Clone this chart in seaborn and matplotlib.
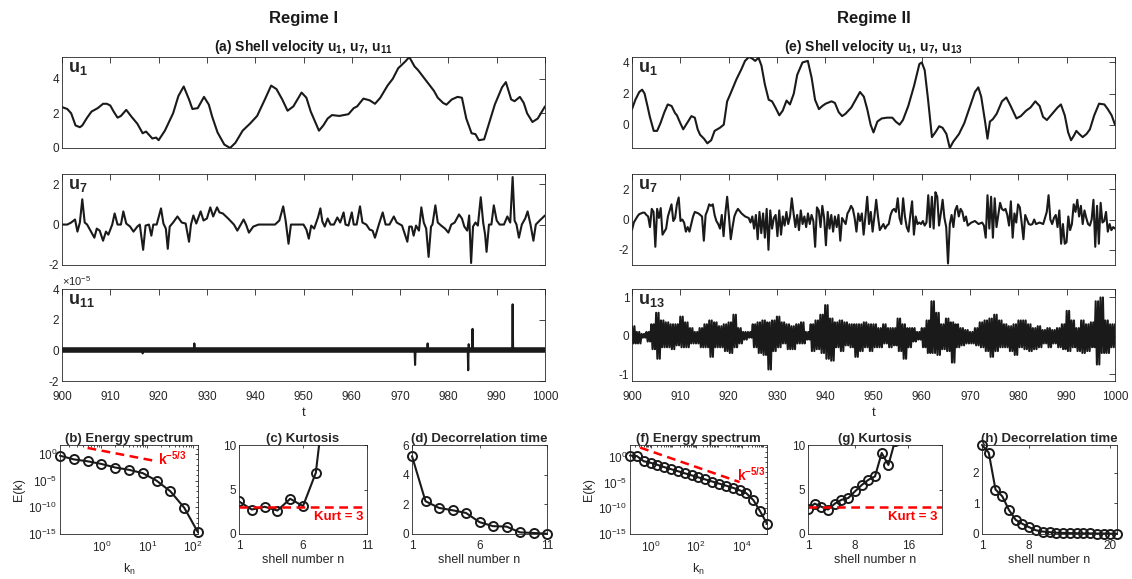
import numpy as np
import matplotlib
matplotlib.use("Agg")
import matplotlib.pyplot as plt
import seaborn as sns
from matplotlib.ticker import FixedLocator, NullFormatter, LogLocator

# -------------------- data --------------------
# Regime I, shell u1 (t, value)
u1_I = [(900.0,2.36),(901.1,2.25),(901.9,2.0),(902.8,1.3),(903.7,1.2),(904.2,1.3),(905.2,1.75),(906.1,2.1),
        (907.4,2.3),(908.5,2.55),(909.3,2.55),(910.0,2.45),(910.7,2.1),(911.5,1.75),(912.2,1.85),(913.3,2.2),
        (914.4,1.8),(915.6,1.4),(916.7,0.85),(917.4,0.95),(918.7,0.55),(919.5,0.6),(920.0,0.45),(921.3,1.0),
        (923.0,2.0),(924.1,3.0),(925.2,3.55),(926.3,2.8),(927.0,2.25),(928.1,2.3),(929.4,2.95),(930.4,2.5),
        (931.1,1.8),(932.2,0.9),(933.6,0.2),(934.8,0.0),(935.9,0.3),(937.4,1.0),(938.9,1.4),(940.4,1.85),
        (942.0,2.8),(943.3,3.6),(944.4,3.4),(945.6,2.8),(946.7,2.15),(947.9,2.4),(949.6,3.2),(950.6,2.9),
        (951.5,2.1),(953.2,1.0),(954.1,1.3),(955.0,1.7),(955.9,1.9),(957.4,1.85),(959.3,1.95),(960.4,2.3),
        (961.1,2.4),(962.4,2.85),(963.7,2.75),(964.8,2.55),(965.9,2.9),(967.4,3.6),(968.5,4.0),(969.6,4.6),
        (971.1,5.0),(971.9,5.25),(973.0,4.7),(973.7,4.5),(974.8,4.1),(975.9,3.7),(977.0,3.3),(977.8,2.9),
        (978.9,2.6),(979.6,2.5),(980.7,2.8),(981.9,2.95),(982.8,2.9),(983.7,1.7),(984.8,0.85),(985.6,0.8),
        (986.3,0.45),(987.4,0.5),(988.5,1.5),(989.6,2.5),(991.1,3.5),(991.9,3.8),(993.0,2.8),(993.7,2.7),
        (994.8,2.95),(995.6,2.6),(996.3,2.0),(997.4,1.5),(998.5,1.7),(1000.0,2.4)]

# Regime I, shell u7 (t, value)
u7_I = [(900.0,0.0),(901.1,0.0),(901.9,0.1),(902.7,0.25),(903.2,-0.35),(903.7,0.1),(904.2,1.25),(904.7,0.1),
        (905.2,0.0),(905.9,-0.3),(906.7,-0.65),(907.2,-0.2),(907.8,-0.3),(908.5,-0.8),(909.1,-0.35),(909.6,-0.5),
        (910.4,0.0),(910.9,0.55),(911.5,0.0),(912.2,0.0),(912.7,0.65),(913.3,0.05),(914.1,-0.1),(914.8,-0.35),
        (915.6,-0.1),(916.1,0.0),(916.8,-1.25),(917.3,-0.05),(918.0,0.0),(918.5,-0.55),(918.9,0.0),(919.6,0.0),
        (920.5,0.8),(921.0,0.05),(921.5,-0.2),(921.9,-1.2),(922.3,-0.1),(923.0,0.1),(923.9,0.4),(924.8,0.1),
        (925.6,0.05),(926.3,-0.85),(926.7,0.0),(927.2,0.45),(927.8,0.05),(928.7,0.65),(929.3,0.2),(930.0,0.3),
        (930.7,0.85),(931.3,0.4),(932.1,0.85),(932.6,0.6),(933.3,0.55),(934.4,0.3),(935.6,0.0),(936.3,-0.3),
        (937.0,0.0),(937.6,0.25),(938.1,0.0),(938.7,-0.4),(939.6,-0.1),(940.7,0.0),(942.6,0.0),(944.1,0.0),
        (945.0,0.2),(945.8,0.9),(946.3,0.2),(946.9,-0.95),(947.4,0.0),(948.5,0.0),(950.0,0.0),(950.6,-0.25),
        (951.1,-0.7),(951.6,-0.05),(952.2,-0.2),(953.0,0.35),(953.5,0.8),(953.9,0.15),(954.4,-0.1),(955.0,0.3),
        (955.6,0.0),(956.3,0.0),(957.0,0.35),(957.6,0.1),(958.3,0.6),(958.7,0.0),(959.3,-0.05),(960.0,0.6),
        (960.4,0.0),(961.0,0.0),(961.7,0.9),(962.2,0.1),(963.0,0.0),(963.7,-0.25),(964.3,-0.3),(964.8,-0.65),
        (965.6,0.0),(966.4,0.6),(967.0,0.0),(967.8,0.0),(968.7,0.4),(969.3,0.1),(970.4,-0.05),(971.5,-0.85),
        (971.9,-0.1),(972.4,-0.1),(972.8,-0.55),(973.3,-0.05),(973.9,-0.3),(974.4,0.85),(974.9,0.1),(975.4,-0.2),
        (975.9,-1.6),(976.4,-0.1),(976.7,0.0),(977.3,0.95),(977.8,0.1),(978.5,-0.05),(979.3,-0.2),(980.0,-0.4),
        (980.6,0.0),(981.3,0.1),(982.2,0.5),(982.8,0.3),(983.3,-0.1),(983.9,-0.3),(984.3,0.45),(984.7,-1.9),
        (985.1,-0.1),(985.6,0.1),(986.1,-0.05),(986.7,1.35),(987.2,0.1),(987.6,-0.5),(987.9,-1.35),(988.4,0.0),
        (988.9,0.0),(989.4,0.95),(990.0,0.2),(990.6,0.0),(991.5,0.0),(992.2,0.4),(992.8,0.1),(993.3,2.35),
        (993.7,0.2),(994.1,0.0),(994.6,-0.65),(995.2,0.0),(995.9,0.3),(996.4,0.65),(997.0,0.0),(997.6,-0.8),
        (998.1,0.0),(998.9,0.2),(1000.0,0.45)]

# Regime I, shell u11 in units of 1e-5 (t, value): spikes on a thin noisy band around 0
u11_I = [(900.0,0.0),(916.6,0.0),(916.7,-0.2),(916.8,0.0),(927.3,0.0),(927.4,0.45),(927.5,0.0),
         (973.0,0.0),(973.1,-0.95),(973.2,0.0),(975.6,0.0),(975.7,0.45),(975.8,0.0),(984.0,0.0),
         (984.1,-1.3),(984.2,0.4),(984.3,0.0),(984.9,0.0),(985.0,1.4),(985.1,0.0),(993.2,0.0),
         (993.3,3.0),(993.4,0.0),(1000.0,0.0)]

# Regime II, shell u1 (t, value)
u1_II = [(900.0,1.0),(900.7,1.6),(901.5,2.1),(902.1,2.25),(902.6,2.0),(903.2,1.2),(903.7,0.5),(904.5,-0.4),
         (905.2,-0.4),(905.9,0.1),(906.7,0.8),(907.4,1.3),(908.2,1.2),(908.9,0.75),(909.3,0.6),(910.0,0.1),
         (910.6,-0.3),(911.4,0.1),(912.3,0.55),(913.0,0.45),(913.6,-0.3),(914.1,-0.65),(914.9,-0.9),(915.6,-1.2),
         (916.4,-1.0),(917.1,-0.4),(918.2,-0.2),(919.0,0.0),(919.7,1.5),(920.4,2.0),(921.6,2.9),(922.7,3.6),
         (923.4,4.1),(924.2,4.35),(924.9,4.25),(925.5,4.1),(926.2,4.3),(926.8,3.8),(927.5,2.6),(928.3,1.6),
         (929.0,1.5),(929.7,1.1),(930.5,0.6),(931.2,0.9),(932.0,1.55),(932.7,1.3),(933.5,2.0),(934.2,3.2),
         (935.3,4.0),(936.4,4.1),(937.2,3.0),(937.9,1.6),(938.7,1.0),(939.4,1.2),(940.1,1.35),(941.3,1.5),
         (942.0,1.4),(942.8,0.8),(943.5,0.55),(944.2,0.7),(945.4,1.1),(946.3,1.6),(947.2,2.1),(948.0,1.8),
         (948.7,1.0),(949.4,0.0),(950.0,-0.5),(950.8,0.2),(951.7,0.4),(952.8,0.45),(953.9,0.45),(954.6,0.2),
         (955.4,0.0),(956.1,0.3),(957.2,1.2),(958.4,2.5),(959.5,3.9),(960.0,4.0),(960.6,3.5),(961.3,1.6),
         (962.1,-0.8),(962.8,-0.5),(963.6,-0.1),(964.3,-0.2),(965.1,-0.6),(965.8,-1.5),(966.5,-1.1),(967.7,-0.6),
         (968.8,0.1),(969.9,1.1),(971.0,2.1),(971.7,2.4),(972.3,1.8),(973.1,0.2),(973.6,-0.9),(974.1,0.2),
         (974.7,0.35),(975.5,0.7),(976.6,1.5),(977.5,1.75),(978.4,1.2),(979.6,0.4),(980.5,0.55),(981.6,0.9),
         (982.5,1.1),(983.5,1.5),(984.4,1.2),(985.1,0.5),(985.9,0.3),(987.0,0.7),(988.1,1.1),(988.8,1.3),
         (989.6,0.6),(990.3,-0.5),(990.9,-1.0),(991.5,-0.7),(992.0,-0.4),(992.6,-0.6),(993.3,-0.8),(994.1,-0.6),
         (994.8,-0.3),(995.7,0.6),(996.7,1.35),(997.8,1.3),(998.5,1.0),(999.3,0.6),(1000.0,0.0)]

# Regime II, shell u7, evenly sampled over t = 900..1000
u7_II = [-0.7, -0.2, 0.0, 0.2, 0.35, 0.4, 0.45, 0.45, 0.3, 0.2,
         -0.5, 0.7, 0.5, -1.8, 0.7, 0.1, 0.75, -1.0, -0.8, -0.6,
         0.2, 0.6, 1.0, -0.1, 0.1, 1.0, 1.45, -0.1, 0.0, -0.2,
         -0.8, -0.5, -0.8, -0.3, 0.2, 0.5, 0.45, 0.4, 0.3, 0.2,
         -1.4, 0.3, 0.6, 1.0, 0.9, 1.0, 0.3, -0.1, -0.3, -0.6,
         0.3, -1.1, 0.4, 1.5, 0.2, -1.3, -0.5, 0.2, 0.5, 0.7,
         0.55, 0.4, 0.3, 0.2, 0.15, 0.1, -0.2, 0.2, -0.6, 0.3,
         -1.3, 0.5, -0.9, 0.4, -1.2, 0.7, -2.0, 0.6, -0.6, 0.1,
         0.3, -1.1, 0.6, -1.0, 0.2, -0.4, 0.5, -0.3, 0.2, 1.4,
         0.4, -0.5, 0.3, -0.7, 0.6, -0.3, 0.2, -0.5, 0.4, -0.3,
         0.3, -0.1, -1.8, 0.8, 0.6, -0.5, 0.9, 0.1, -1.7, 0.5,
         -0.6, 0.3, -0.8, 0.2, -0.5, 0.3, -1.4, 0.1, -0.1, -0.3,
         0.4, 0.6, 0.9, 0.7, 0.1, -0.8, 0.4, -0.1, 0.4, -1.0,
         0.2, 1.5, -0.3, 0.5, -0.8, 0.2, 1.3, 0.2, -0.7, -0.5,
         -0.3, -0.6, -0.4, -0.3, 0.3, 0.6, 0.7, 0.5, 1.4, 0.1,
         -0.3, 1.4, 0.2, -0.5, -0.8, 0.3, 1.2, -1.0, 0.2, -0.3,
         -0.2, -0.3, -0.1, -0.4, -0.2, 1.6, -0.5, 1.5, -0.6, 1.8,
         1.5, -0.4, 0.4, 1.3, 0.1, -0.5, -2.9, -0.3, 0.3, -0.5,
         0.6, 0.9, 0.2, 0.7, 0.5, -0.1, 0.2, -0.4, -0.3, -0.2,
         -0.15, -0.1, -0.2, -0.3, -0.25, -0.2, -0.4, -1.2, 1.6, -0.6,
         1.5, -1.2, 1.4, -0.5, 0.3, 1.1, 0.7, 0.6, 0.7, 0.3,
         -0.4, 1.2, -1.2, 0.4, -0.2, 1.0, 0.8, -0.2, -1.3, 0.3,
         0.0, -0.3, -0.35, -0.3, 0.0, -0.3, -0.25, -0.2, -0.25, -0.3,
         0.1, 0.5, 1.6, 0.0, -0.3, 0.1, 0.3, -0.5, 0.6, -1.6,
         -0.3, -1.6, -1.5, 0.2, -0.7, -0.3, 1.0, 0.5, 1.3, 0.2,
         0.9, -0.3, 0.6, 0.1, -0.3, -0.4, 0.0, 1.3, -1.8, 0.9,
         -1.6, 1.1, -0.2, -0.1, 0.5, -0.8, -0.3, -0.7, -0.5, -0.6]

# Regime II, shell u13: upper / lower swing of the fast oscillation at t = 900, 901, ..., 1000
u13_hi = [0.25, 0.1, 0.05, 0.1, 0.3, 0.6, 0.4, 0.35, 0.3, 0.3,
          0.5, 0.35, 0.2, 0.1, 0.2, 0.3, 0.4, 0.35, 0.25, 0.3,
          0.35, 0.55, 0.2, 0.1, 0.1, 0.3, 0.35, 0.4, 0.35, 0.4,
          0.5, 0.35, 0.3, 0.25, 0.3, 0.35, 0.1, 0.3, 0.4, 0.55,
          0.8, 0.45, 0.35, 0.4, 0.35, 0.3, 0.3, 0.3, 0.35, 0.3,
          0.3, 0.2, 0.3, 0.2, 0.2, 0.45, 0.3, 0.2, 0.2, 0.1,
          0.2, 0.4, 0.9, 0.6, 0.3, 0.45, 0.35, 0.3, 0.2, 0.15,
          0.1, 0.2, 0.35, 0.4, 0.45, 0.55, 0.4, 0.3, 0.25, 0.3,
          0.4, 0.4, 0.3, 0.2, 0.25, 0.15, 0.2, 0.15, 0.2, 0.3,
          0.65, 0.4, 0.2, 0.4, 0.3, 0.35, 0.9, 1.0, 0.4, 0.3,
          0.3]
u13_lo = [-0.2, -0.2, -0.05, -0.15, -0.35, -0.6, -0.3, -0.3, -0.35, -0.25,
          -0.3, -0.3, -0.2, -0.2, -0.3, -0.3, -0.55, -0.3, -0.3, -0.4,
          -0.45, -0.3, -0.2, -0.1, -0.05, -0.3, -0.45, -0.5, -0.88, -0.4,
          -0.3, -0.2, -0.35, -0.35, -0.2, -0.2, -0.1, -0.4, -0.35, -0.45,
          -0.6, -0.65, -0.3, -0.4, -0.25, -0.3, -0.55, -0.4, -0.3, -0.4,
          -0.3, -0.3, -0.2, -0.3, -0.25, -0.4, -0.6, -0.3, -0.15, -0.1,
          -0.3, -0.45, -0.45, -0.5, -0.35, -0.4, -0.7, -0.3, -0.25, -0.2,
          -0.2, -0.25, -0.3, -0.4, -0.55, -0.4, -0.3, -0.3, -0.4, -0.5,
          -0.3, -0.35, -0.4, -0.35, -0.3, -0.2, -0.3, -0.2, -0.3, -0.35,
          -0.4, -0.3, -0.4, -0.45, -0.4, -0.3, -0.75, -0.45, -0.45, -0.3,
          -0.2]

# Energy spectra
k_I = [0.125, 0.25, 0.5, 1, 2, 4, 8, 16, 32, 64, 128]
E_I = [0.49, 0.10, 0.044, 0.014, 3.0e-3, 1.1e-3, 2.6e-4, 1.0e-5, 1.0e-7, 8.7e-11, 2.0e-15]
k_II = [0.125, 0.25, 0.5, 1, 2, 4, 8, 16, 32, 64, 128, 256, 512, 1024, 2048, 4096,
        8192, 16384, 32768, 65536, 131072]
E_II = [1.8, 1.4, 0.14, 0.071, 0.028, 0.01, 4.0e-3, 1.6e-3, 6.3e-4, 2.5e-4, 1.0e-4,
        4.0e-5, 1.6e-5, 6.3e-6, 2.5e-6, 1.0e-6, 3.2e-7, 7.9e-8, 4.0e-9, 2.5e-11, 1.0e-13]
ref_k_I, ref_E_I = [0.5, 16], [14.0, 0.045]          # k^-5/3 guide
ref_k_II, ref_E_II = [0.35, 8200], [63.0, 1.26e-5]

# Kurtosis and decorrelation time per shell
n_I = np.arange(1, 12)
n_II = np.arange(1, 22)
kurt_I = [3.66, 2.75, 3.06, 2.64, 3.96, 3.13, 6.87, 19, 40, 80, 150]
kurt_II = [2.86, 3.41, 3.06, 2.75, 3.41, 3.84, 4.04, 4.78, 5.49, 6.08, 6.47, 9.1, 7.76,
           10.5, 14, 20, 28, 40, 55, 75, 100]
kurt_gauss = 3
tau_I = [5.25, 2.21, 1.76, 1.6, 1.42, 0.8, 0.53, 0.5, 0.11, 0.07, 0.02]
tau_II = [2.9, 2.65, 1.45, 1.23, 0.78, 0.46, 0.33, 0.22, 0.12, 0.08, 0.06, 0.04, 0.035,
          0.03, 0.025, 0.02, 0.02, 0.015, 0.015, 0.01, 0.01]

# -------------------- style --------------------
sns.set_theme(style="white")
plt.rcParams['font.family'] = ['Liberation Sans', 'DejaVu Sans']
plt.rcParams['mathtext.fontset'] = 'custom'
plt.rcParams['mathtext.rm'] = 'Liberation Sans'
plt.rcParams['mathtext.it'] = 'Liberation Sans:italic'
plt.rcParams['mathtext.bf'] = 'Liberation Sans:bold'
plt.rcParams['axes.unicode_minus'] = False

INK = '#262626'
W, H = 1132, 579
fig = plt.figure(figsize=(W / 100, H / 100), dpi=100)


def box(x0, y0, x1, y1):
    return fig.add_axes([x0 / W, 1 - y1 / H, (x1 - x0) / W, (y1 - y0) / H])


def style(ax, tl=3.5, xpad=3):
    ax.set_facecolor('white')
    ax.tick_params(which='both', direction='in', top=True, right=True, width=0.6,
                   colors=INK, labelsize=8.5, pad=2)
    ax.tick_params(axis='x', which='both', pad=xpad)
    ax.tick_params(which='major', length=tl)
    ax.tick_params(which='minor', length=tl * 0.6)
    for s in ax.spines.values():
        s.set_color(INK)
        s.set_linewidth(0.6)


def series(pairs):
    t, v = zip(*pairs)
    return np.array(t), np.array(v)


def trace(ax, t, v, lw=1.5):
    sns.lineplot(x=t, y=v, ax=ax, color='k', lw=lw, sort=False, estimator=None)


def ulabel(ax, txt):
    ax.text(0.012, 0.97, txt, transform=ax.transAxes, ha='left', va='top', fontsize=13)


# -------------------- time series --------------------
cols = [(62, 545), (632, 1115)]
rows = [(57, 148), (174, 265), (289, 381)]

# fast u13 oscillation drawn as a zig-zag between its upper and lower swings,
# four strokes per time unit
tt = np.arange(900, 1001)
t13 = np.ravel(np.column_stack([tt, tt + 0.25, tt + 0.5, tt + 0.75]))
v13 = np.ravel(np.column_stack([u13_hi, u13_lo, u13_hi, u13_lo]))
keep = t13 <= 1000
t13, v13 = t13[keep], v13[keep]

panels = {
    0: [(series(u1_I), r'$\mathbf{u_1}$', (0, 5.25), [0, 2, 4]),
        (series(u7_I), r'$\mathbf{u_7}$', (-2, 2.5), [-2, 0, 2]),
        (series(u11_I), r'$\mathbf{u_{11}}$', (-2, 4), [-2, 0, 2, 4])],
    1: [(series(u1_II), r'$\mathbf{u_1}$', (-1.5, 4.35), [0, 2, 4]),
        ((np.linspace(900, 1000, len(u7_II)), np.array(u7_II)), r'$\mathbf{u_7}$', (-3, 3), [-2, 0, 2]),
        ((t13, v13), r'$\mathbf{u_{13}}$', (-1.18, 1.22), [-1, 0, 1])],
}
headers = ['Regime I', 'Regime II']
subtitles = [r'(a) Shell velocity $\mathbf{u_1}$, $\mathbf{u_7}$, $\mathbf{u_{11}}$',
             r'(e) Shell velocity $\mathbf{u_1}$, $\mathbf{u_7}$, $\mathbf{u_{13}}$']

for c, (x0, x1) in enumerate(cols):
    xc = (x0 + x1) / 2
    fig.text(xc / W, 1 - 18 / H, headers[c], ha='center', va='center',
             fontsize=12, fontweight='bold', color='k')
    fig.text(xc / W, 1 - 51 / H, subtitles[c], ha='center', va='baseline',
             fontsize=10, fontweight='bold', color='k')
    for r, (y0, y1) in enumerate(rows):
        ax = box(x0, y0, x1, y1)
        (t, v), lab, ylim, yt = panels[c][r]
        if c == 0 and r == 2:
            ax.axhline(0, color='k', lw=4)
        trace(ax, t, v)
        ax.set_xlim(900, 1000)
        ax.set_ylim(*ylim)
        ax.set_xticks(np.arange(900, 1001, 10))
        ax.set_yticks(yt)
        ax.set_xlabel('')
        ax.set_ylabel('')
        style(ax, tl=4, xpad=7)
        ulabel(ax, lab)
        if r < 2:
            ax.set_xticklabels([])
        else:
            ax.set_xlabel('t', fontsize=9.5, color=INK, labelpad=3)
        if c == 0 and r == 2:
            ax.text(0.0, 1.01, r'$\times10^{-5}$', transform=ax.transAxes,
                    ha='left', va='bottom', fontsize=8, color=INK)

# -------------------- bottom panels --------------------
MK = dict(marker='o', markersize=6.5, markerfacecolor='none', markeredgecolor='k',
          markeredgewidth=1.4)
RED = dict(color='red', lw=1.8, dashes=(3.5, 2.2))
yb0, yb1 = 445, 534


def spectrum(ax, k, E, rk, rE, ylim, xt, title, txt_xy):
    ax.set_xscale('log')
    ax.set_yscale('log')
    sns.lineplot(x=k, y=E, ax=ax, color='k', lw=1.5, clip_on=False, **MK)
    ax.plot(rk, rE, **RED)
    ax.set_xlim(k[0], k[-1])
    ax.set_ylim(*ylim)
    ax.xaxis.set_major_locator(FixedLocator(xt))
    ax.xaxis.set_minor_locator(LogLocator(base=10, subs=np.arange(2, 10), numticks=30))
    ax.xaxis.set_minor_formatter(NullFormatter())
    ax.yaxis.set_major_locator(FixedLocator([1e-15, 1e-10, 1e-5, 1e0]))
    ax.yaxis.set_minor_locator(FixedLocator([10.0 ** p for p in range(-15, 3)]))
    ax.yaxis.set_minor_formatter(NullFormatter())
    style(ax, tl=2, xpad=4)
    ax.set_title(title, fontsize=9.5, fontweight='bold', pad=2)
    ax.set_ylabel('E(k)', fontsize=9, color=INK, labelpad=2)
    ax.set_xlabel(r'k$_\mathregular{n}$', fontsize=9, color=INK, labelpad=5)
    ax.text(txt_xy[0], txt_xy[1], r'$\mathbf{k^{-5/3}}$', transform=ax.transAxes,
            color='red', fontsize=10, va='center', ha='left')


def shells(ax, n, y, xlim, xt, ylim, yt, title, kurt=False):
    sns.lineplot(x=n, y=y, ax=ax, color='k', lw=1.5, clip_on=kurt, **MK)
    if kurt:
        ax.axhline(kurt_gauss, **RED)
        ax.text(0.97, 0.19, 'Kurt = 3', transform=ax.transAxes, ha='right', va='center',
                color='red', fontsize=9.5, fontweight='bold')
    ax.set_xlim(*xlim)
    ax.set_ylim(*ylim)
    ax.set_xticks(xt)
    ax.set_yticks(yt)
    style(ax, tl=2, xpad=4)
    ax.set_title(title, fontsize=9.5, fontweight='bold', pad=2)
    ax.set_xlabel('shell number n', fontsize=9, color=INK, labelpad=2)
    ax.set_ylabel('')


spectrum(box(60, yb0, 198, yb1), k_I, E_I, ref_k_I, ref_E_I, (1e-15, 50), [1, 10, 100],
         '(b) Energy spectrum', (0.71, 0.84))
shells(box(239, yb0, 367, yb1), n_I, kurt_I, (1, 11), [1, 6, 11], (0, 10), [0, 5, 10],
       '(c) Kurtosis', kurt=True)
shells(box(412, yb0, 547, yb1), n_I, tau_I, (1, 11), [1, 6, 11], (0, 6), [0, 2, 4, 6],
       '(d) Decorrelation time')

spectrum(box(630, yb0, 767, yb1), k_II, E_II, ref_k_II, ref_E_II, (1e-15, 200), [1, 100, 1e4],
         '(f) Energy spectrum', (0.78, 0.67))
shells(box(808, yb0, 942, yb1), n_II, kurt_II, (1, 21), [1, 8, 16], (0, 10), [0, 5, 10],
       '(g) Kurtosis', kurt=True)
shells(box(982, yb0, 1117, yb1), n_II, tau_II, (1, 21), [1, 8, 20], (0, 2.9), [0, 1, 2],
       '(h) Decorrelation time')

fig.savefig('out.png', dpi=100, facecolor='white')
